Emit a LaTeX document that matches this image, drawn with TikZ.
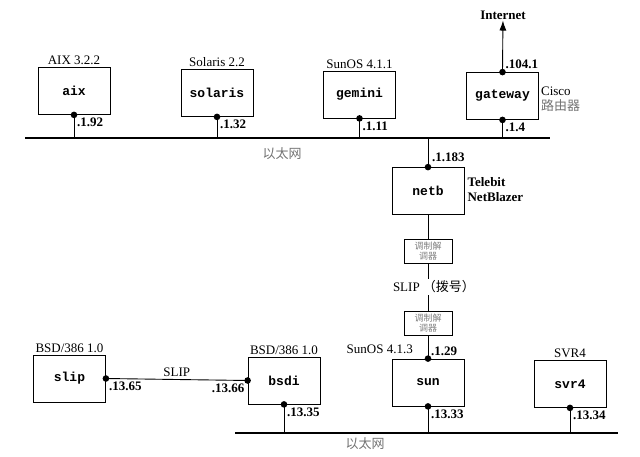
\documentclass[tikz,border=0pt]{standalone}
\usepackage{fontspec}
\setmainfont{Liberation Serif}
\setmonofont{Liberation Mono}
\newfontfamily\cjk{Noto Sans CJK SC}
\usetikzlibrary{positioning, arrows.meta}

\begin{document}
\begin{tikzpicture}[
	x=1pt, y=-1pt,
	host/.style={
		rectangle,
		draw=black,
		line width=0.8pt,
		minimum width=72pt,
		minimum height=47pt,
		font=\ttfamily\bfseries\fontsize{13}{15}\selectfont
	},
	modem/.style={
		rectangle,
		draw=black,
		line width=0.7pt,
		minimum width=48pt,
		minimum height=24pt,
		inner sep=0pt,
		align=center,
		text=gray,
		font=\cjk\fontsize{9}{10}\selectfont
	},
	osname/.style={font=\fontsize{13}{15}\selectfont, inner sep=1pt},
	ip/.style={font=\bfseries\fontsize{13}{15}\selectfont, inner sep=1pt},
	ether/.style={line width=2.8pt},
	lien/.style={line width=0.9pt},
	cjklabel/.style={font=\cjk\fontsize{13}{15}\selectfont, text=gray!90!black}
	]
	\useasboundingbox (0,0) rectangle (640,457);
	% top ethernet
	\coordinate (ethA1) at (25,138);
	\coordinate (ethA2) at (550,138);
	\draw[ether] (ethA1) -- (ethA2);
	\node[cjklabel] (ethAlbl) at (282,154) {以太网};
	% hosts on top ethernet
	\node[host] (aix) at (74,91) {aix};
	\node[host] (solaris) at (217,93) {solaris};
	\node[host] (gemini) at (359.5,94.5) {gemini};
	\node[host] (gateway) at (502.5,96) {gateway};
	\node[osname, above=1pt of aix] {AIX 3.2.2};
	\node[osname, above=1pt of solaris] {Solaris 2.2};
	\node[osname, above=1pt of gemini] {SunOS 4.1.1};
	\node[osname, right=1pt of gateway.east, align=left, yshift=-3pt]
	{Cisco\\{\cjk\color{gray!90!black}路由器}};
	\node[ip] (inet) at (503,15) {Internet};
	\draw[lien, -{Latex[length=10pt,width=7pt]}] (gateway.north) -- (inet);
	% router to the SLIP line
	\node[host] (netb) at (428,191) {netb};
	\node[ip, right=2pt of netb.east, align=left, yshift=1pt] {Telebit\\NetBlazer};
	\node[modem] (modA) at (428,251) {调制解\\调器};
	\node[modem] (modB) at (428,323) {调制解\\调器};
	\draw[lien] (netb.north |- ethA1) -- (netb.north);
	\draw[lien] (netb) -- (modA);
	\draw[lien] (modA) -- (modB);
	\node[osname, fill=white, inner sep=2pt] (dial) at (434,287)
	{SLIP {\cjk （拨号）}};
	% bottom ethernet
	\coordinate (ethB1) at (235,433);
	\coordinate (ethB2) at (618,433);
	\draw[ether] (ethB1) -- (ethB2);
	\node[cjklabel] (ethBlbl) at (365,444) {以太网};
	\node[host] (sun) at (428,382.5) {sun};
	\node[host] (svr4) at (570,384) {svr4};
	\node[host] (bsdi) at (284,380.5) {bsdi};
	\node[host] (slip) at (69.5,378.5) {slip};
	\node[osname, anchor=base east] at (414,353) {SunOS 4.1.3};
	\node[osname, above=1pt of svr4] {SVR4};
	\node[osname, above=1pt of bsdi] {BSD/386 1.0};
	\node[osname, above=1pt of slip] {BSD/386 1.0};
	\draw[lien] (modB) -- (sun.north);
	\draw[lien] (slip.east) -- (bsdi.west)
	node[osname, midway, above=1pt] {SLIP};
	% drops to the ethernets
	\foreach \h in {aix, solaris, gemini, gateway}
	\draw[lien] (\h.south) -- (\h.south |- ethA1);
	\foreach \h in {bsdi, sun, svr4}
	\draw[lien] (\h.south) -- (\h.south |- ethB1);
	\foreach \p in {aix.south, solaris.south, gemini.south, gateway.south,
		gateway.north, netb.north, sun.north, sun.south, svr4.south,
		bsdi.south, bsdi.west, slip.east}
	\fill (\p) circle (3.3pt);
	% addresses
	\node[ip, anchor=north west] at ([xshift=2pt,yshift=-2pt]aix.south) {.1.92};
	\node[ip, anchor=north west] at ([xshift=2pt,yshift=-2pt]solaris.south) {.1.32};
	\node[ip, anchor=north west] at ([xshift=2pt,yshift=-2pt]gemini.south) {.1.11};
	\node[ip, anchor=north west] at ([xshift=2pt,yshift=-2pt]gateway.south) {.1.4};
	\node[ip, anchor=south west] at ([xshift=2pt,yshift=2pt]gateway.north) {.104.1};
	\node[ip, anchor=west] at ([xshift=3pt,yshift=10pt]netb.north) {.1.183};
	\node[ip, anchor=south west] at ([xshift=2pt,yshift=2pt]sun.north) {.1.29};
	\node[ip, anchor=north west] at ([xshift=2pt,yshift=-2pt]sun.south) {.13.33};
	\node[ip, anchor=north west] at ([xshift=2pt,yshift=-2pt]svr4.south) {.13.34};
	\node[ip, anchor=north west] at ([xshift=2pt,yshift=-2pt]bsdi.south) {.13.35};
	\node[ip, anchor=north east] at ([xshift=-2pt,yshift=-2pt]bsdi.west) {.13.66};
	\node[ip, anchor=north west] at ([xshift=2pt,yshift=-2pt]slip.east) {.13.65};
\end{tikzpicture}
\end{document}
